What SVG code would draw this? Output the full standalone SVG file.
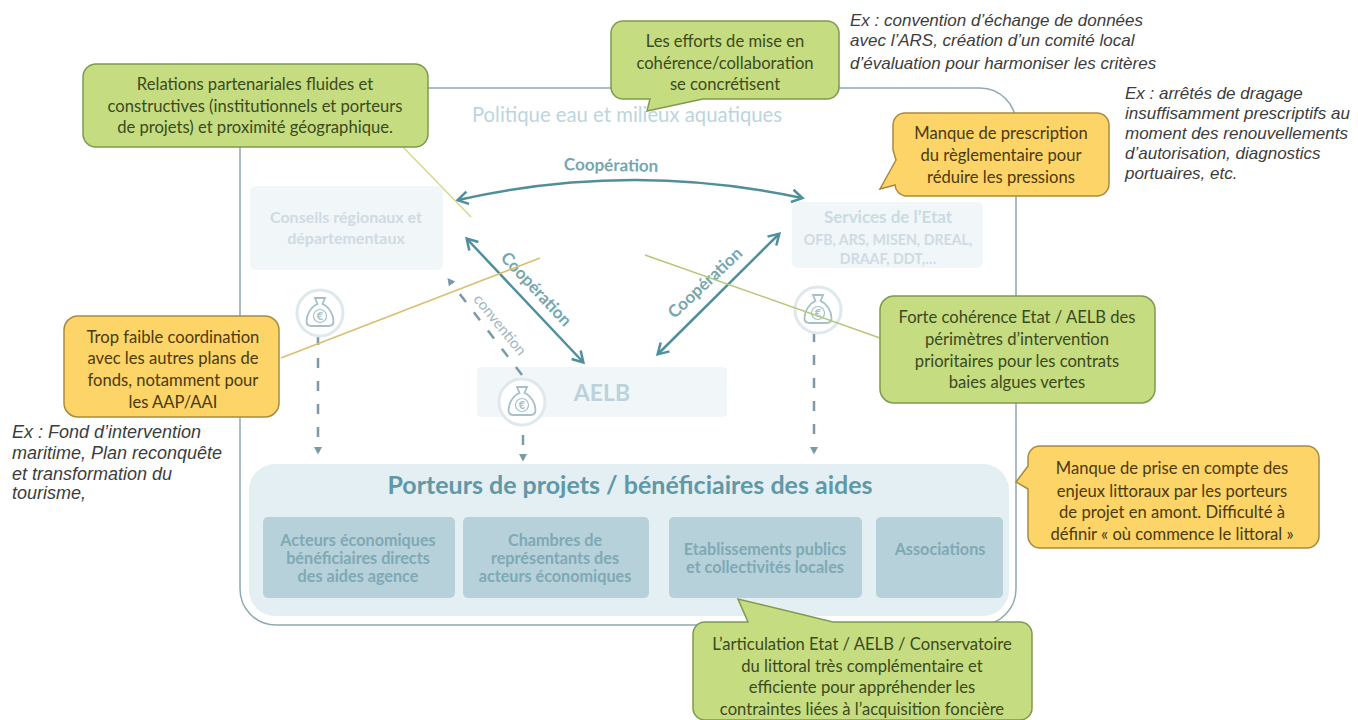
<svg xmlns="http://www.w3.org/2000/svg" width="1358" height="720" viewBox="0 0 1358 720">
<defs>
<marker id="ah" markerWidth="6" markerHeight="6" refX="4.5" refY="3" orient="auto-start-reverse" markerUnits="strokeWidth"><path d="M0.5 0.5L4.7 3L0.5 5.5" fill="none" stroke="#4f8f9b" stroke-width="1"/></marker>
<marker id="tri" markerWidth="4" markerHeight="4" refX="2" refY="2" orient="auto" markerUnits="strokeWidth"><path d="M0 0.4L3 2L0 3.600z" fill="#7a9aa5"/></marker>
<g id="bag"><circle r="23" fill="#fff" stroke="#dfe8ec" stroke-width="3"/><path d="M-5 -15h10l-2.500 6c7 3 11 11 11 17c0 3 -2 5 -5 5h-17c-3 0 -5 -2 -5 -5c0 -6 4 -14 11 -17z" fill="none" stroke="#a5c0c8" stroke-width="1.800"/><circle cy="3" r="6.500" fill="none" stroke="#a5c0c8" stroke-width="1.200"/><text y="7" class="f" text-anchor="middle" font-size="11" font-weight="bold" fill="#a5c0c8">€</text></g>
</defs>
<style>
.f{font-family:Lato,"Open Sans","Liberation Sans",sans-serif}
.c{font-family:Lato,"Open Sans","Liberation Sans",sans-serif;font-size:16.600px;text-anchor:middle;fill:#3c4a20}
.o{font-family:Lato,"Open Sans","Liberation Sans",sans-serif;font-size:16.600px;text-anchor:middle;fill:#4a3a10}
.ex{font-family:"Liberation Sans",Arial,sans-serif;font-style:italic;fill:#3c3c3c}
.g{fill:#c5dc80;stroke:#7d9a4e;stroke-width:1.500}
.y{fill:#fdd468;stroke:#a88a3c;stroke-width:1.500}
.box{fill:#f1f6f9}
.sub{fill:#b6d1d9}
.st{font-family:Lato,"Open Sans","Liberation Sans",sans-serif;font-size:16.200px;font-weight:bold;text-anchor:middle;fill:#7ea9b5}
.fade{font-family:Lato,"Open Sans","Liberation Sans",sans-serif;font-size:14.200px;font-weight:bold;text-anchor:middle;fill:#cfdbe2}
.lab{font-family:Lato,"Open Sans","Liberation Sans",sans-serif;font-size:17px;font-weight:bold;text-anchor:middle;fill:#76a6ae}
.lk{fill:none;stroke:#4f8f9b;stroke-width:2.500;marker-start:url(#ah);marker-end:url(#ah)}
.d{fill:none;stroke:#7a9aa5;stroke-width:2.500;stroke-dasharray:10 13;marker-end:url(#tri)}
.lead{fill:none;stroke-width:1.500}
</style>
<rect width="1358" height="720" fill="#fff"/>
<g id="frame"><rect x="240" y="88" width="776" height="537" rx="36" fill="#fff" stroke="#8fa8b2" stroke-width="1.500"/>
<text x="627" y="122" class="f" text-anchor="middle" font-size="20.300" fill="#bcd5dd">Politique eau et milieux aquatiques</text></g>
<g id="conseils"><rect class="box" x="250" y="186" width="193" height="84" rx="6"/><text class="fade" style="font-size:16px" x="346" y="223">Conseils régionaux et</text><text class="fade" style="font-size:16px" x="346" y="244">départementaux</text></g>
<g id="services"><rect class="box" x="792" y="202" width="191" height="66" rx="6"/><text x="888" y="223" class="f" text-anchor="middle" font-size="17" font-weight="bold" fill="#c9dbe3">Services de l’Etat</text><text class="fade" x="888" y="245">OFB, ARS, MISEN, DREAL,</text><text class="fade" x="888" y="264">DRAAF, DDT,…</text></g>
<g id="aelb"><rect class="box" x="477" y="367" width="250" height="50" rx="4"/><text x="602" y="401" class="f" text-anchor="middle" font-size="23" font-weight="bold" fill="#bcd2da">AELB</text></g>
<g id="porteurs"><rect x="249" y="464" width="760" height="152" rx="26" fill="#e3eff3"/><text x="630" y="494" class="f" text-anchor="middle" font-size="25" font-weight="bold" fill="#5f98a6">Porteurs de projets / bénéficiaires des aides</text></g>
<g id="acteurs"><rect class="sub" x="263" y="517" width="192" height="81" rx="5"/><text class="st" x="358" y="546">Acteurs économiques</text><text class="st" x="358" y="564">bénéficiaires directs</text><text class="st" x="358" y="582">des aides agence</text></g>
<g id="chambres"><rect class="sub" x="463" y="517" width="186" height="81" rx="5"/><text class="st" x="555" y="546">Chambres de</text><text class="st" x="555" y="564">représentants des</text><text class="st" x="555" y="582">acteurs économiques</text></g>
<g id="etablissements"><rect class="sub" x="669" y="517" width="193" height="81" rx="5"/><text class="st" x="765" y="555">Etablissements publics</text><text class="st" x="765" y="573">et collectivités locales</text></g>
<g id="associations"><rect class="sub" x="876" y="517" width="127" height="81" rx="5"/><text class="st" x="940" y="555">Associations</text></g>
<g id="connectors">
<path class="lk" d="M458 200Q630 161 802 198"/>
<path class="lk" d="M467 239L583 362"/>
<path class="lk" d="M779 234L658 354"/>
<path class="d" d="M522 375L449 280"/>
<path class="d" d="M318 335V452"/>
<path class="d" d="M523 435V459"/>
<path class="d" d="M814 332V452"/>
<text class="lab" transform="translate(611 171) rotate(1)">Coopération</text>
<text class="lab" transform="translate(532 293) rotate(47)">Coopération</text>
<text class="lab" transform="translate(709 287) rotate(-43)">Coopération</text>
<text transform="translate(496 328) rotate(51)" class="f" text-anchor="middle" font-size="15" fill="#9db6c0">convention</text>
</g>
<g id="money"><use href="#bag" x="320" y="313"/><use href="#bag" x="522" y="402"/><use href="#bag" x="818" y="310"/></g>
<g id="leaders">
<path class="lead" stroke="#d8d88a" d="M403 147L471 217"/>
<path class="lead" stroke="#d8bf72" d="M281 358L540 258"/>
<path class="lead" stroke="#b3c878" d="M645 255L880 338"/>
</g>
<g id="c-relations"><rect class="g" x="83" y="64" width="345" height="83" rx="13"/><text class="c" x="255" y="90">Relations partenariales fluides et</text><text class="c" x="255" y="112">constructives (institutionnels et porteurs</text><text class="c" x="255" y="133">de projets) et proximité géographique.</text></g>
<g id="c-efforts"><path class="g" d="M623 21H827a12 12 0 0 1 12 12V87a12 12 0 0 1 -12 12H703L647 111L650 99H623a12 12 0 0 1 -12 -12V33a12 12 0 0 1 12 -12z"/><text class="c" x="725" y="47">Les efforts de mise en</text><text class="c" x="725" y="69">cohérence/collaboration</text><text class="c" x="725" y="90">se concrétisent</text></g>
<g id="c-manque"><path class="y" d="M905 113H1097a12 12 0 0 1 12 12V184a12 12 0 0 1 -12 12H905a12 12 0 0 1 -10 -11L880 189L896 160L893 150V125a12 12 0 0 1 12 -12z"/><text class="o" x="1001" y="139">Manque de prescription</text><text class="o" x="1001" y="161">du règlementaire pour</text><text class="o" x="1001" y="183">réduire les pressions</text></g>
<g id="c-trop"><rect class="y" x="64" y="316" width="215" height="101" rx="14"/><text class="o" x="173" y="343">Trop faible coordination</text><text class="o" x="173" y="364">avec les autres plans de</text><text class="o" x="173" y="386">fonds, notamment pour</text><text class="o" x="173" y="408">les AAP/AAI</text></g>
<g id="c-forte"><rect class="g" x="880" y="296" width="275" height="107" rx="14"/><text class="c" x="1017" y="323">Forte cohérence Etat / AELB des</text><text class="c" x="1017" y="345">périmètres d’intervention</text><text class="c" x="1017" y="367">prioritaires pour les contrats</text><text class="c" x="1017" y="388">baies algues vertes</text></g>
<g id="c-prise"><path class="y" d="M1040 446H1307a12 12 0 0 1 12 12V536a12 12 0 0 1 -12 12H1040a12 12 0 0 1 -12 -12V489L1016 482L1028 466V458a12 12 0 0 1 12 -12z"/><text class="o" x="1172" y="474">Manque de prise en compte des</text><text class="o" x="1172" y="497">enjeux littoraux par les porteurs</text><text class="o" x="1172" y="518">de projet en amont. Difficulté à</text><text class="o" x="1172" y="540">définir « où commence le littoral »</text></g>
<g id="c-articulation"><path class="g" d="M705 622H748L738 599L833 622H1020a12 12 0 0 1 12 12V708a12 12 0 0 1 -12 12H705a12 12 0 0 1 -12 -12V634a12 12 0 0 1 12 -12z"/><text class="c" x="862" y="650">L’articulation Etat / AELB / Conservatoire</text><text class="c" x="862" y="672">du littoral très complémentaire et</text><text class="c" x="862" y="693">efficiente pour appréhender les</text><text class="c" x="862" y="715">contraintes liées à l’acquisition foncière</text></g>
<g id="notes">
<g font-size="17"><text class="ex" x="850" y="26">Ex : convention d’échange de données</text><text class="ex" x="850" y="46">avec l’ARS, création d’un comité local</text><text class="ex" x="850" y="69">d’évaluation pour harmoniser les critères</text>
<text class="ex" x="1125" y="99">Ex : arrêtés de dragage</text><text class="ex" x="1125" y="119">insuffisamment prescriptifs au</text><text class="ex" x="1125" y="139">moment des renouvellements</text><text class="ex" x="1125" y="159">d’autorisation, diagnostics</text><text class="ex" x="1125" y="179">portuaires, etc.</text></g>
<g font-size="18"><text class="ex" x="12" y="438">Ex : Fond d’intervention</text><text class="ex" x="12" y="459">maritime, Plan reconquête</text><text class="ex" x="12" y="480">et transformation du</text><text class="ex" x="12" y="499">tourisme,</text></g>
</g>
</svg>
